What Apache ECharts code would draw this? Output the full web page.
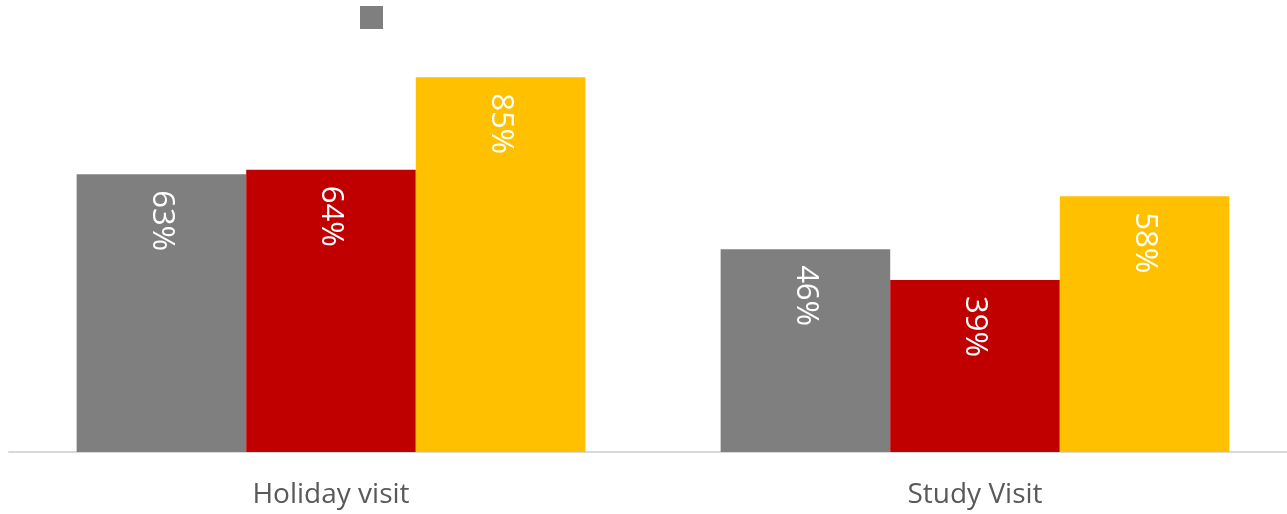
<!DOCTYPE html>
<html>
<head>
<meta charset="utf-8">
<style>
  html, body { margin: 0; padding: 0; background: #ffffff; }
  #chart { width: 1287px; height: 514px; }
</style>
<script src="https://cdn.jsdelivr.net/npm/echarts@6/dist/echarts.min.js"></script>
</head>
<body>
<div id="chart"></div>
<script>
// Visit types on the category axis
const categories = ['Holiday visit', 'Study Visit'];

// Share of respondents (%) per group
const seriesNames = ['Group A', 'Group B', 'Group C'];
const groupA = [63, 46];
const groupB = [64, 39];
const groupC = [85, 58];
const colors = ['#7f7f7f', '#c00000', '#ffc000'];

const fontFamily = '"Open Sans", "Noto Sans", "DejaVu Sans", sans-serif';

const chart = echarts.init(document.getElementById('chart'));

const values = [groupA, groupB, groupC];
const series = values.map((data, i) => ({
  name: seriesNames[i],
  type: 'bar',
  data: data,
  barGap: '0%',
  barCategoryGap: '21%',
  itemStyle: { color: colors[i] },
  label: {
    show: true,
    position: 'insideTop',
    distance: 16,
    rotate: -90,
    align: 'left',
    verticalAlign: 'middle',
    color: '#ffffff',
    fontSize: 31,
    fontFamily: fontFamily,
    formatter: p => p.value + '%'
  }
}));

chart.setOption({
  animation: false,
  legend: {
    data: [seriesNames[0]],
    left: 355,
    top: 1,
    icon: 'rect',
    itemWidth: 23,
    itemHeight: 23,
    formatter: () => '',
    textStyle: { fontSize: 1 }
  },
  grid: {
    left: 9, width: 1288, top: 11, height: 441,
    containLabel: false,
    outerBoundsMode: 'none'
  },
  xAxis: {
    type: 'category',
    data: categories,
    axisLine: { lineStyle: { color: '#d9d9d9', width: 2 } },
    axisTick: { show: false },
    axisLabel: {
      color: '#595959',
      fontSize: 28,
      fontFamily: fontFamily,
      margin: 29
    }
  },
  yAxis: {
    type: 'value',
    min: 0,
    max: 100,
    show: false,
    splitLine: { show: false }
  },
  series: series
});
</script>
</body>
</html>
